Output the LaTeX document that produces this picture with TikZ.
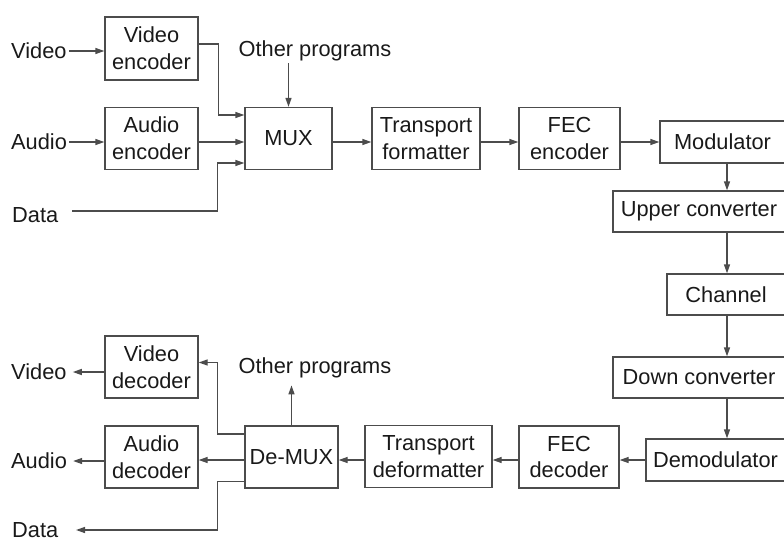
\documentclass[tikz,border=0pt]{standalone}
\usepackage{fontspec}
\setmainfont{Liberation Sans}
\usetikzlibrary{positioning,arrows.meta}
\tikzset{
  blk/.style={draw=black!70, line width=1.3pt, align=center, inner sep=0pt,
              minimum height=62pt, font=\fontsize{21.8}{26.7}\selectfont, text=black!90},
  lbl/.style={inner sep=2pt, font=\fontsize{21.8}{26.7}\selectfont, text=black!90},
  arr/.style={draw=black!70, line width=1.3pt, -{Triangle[length=9pt,width=6pt]}},
  ln/.style={draw=black!70, line width=1.3pt}
}

\begin{document}
\begin{tikzpicture}[x=1pt,y=-1pt]
  \useasboundingbox (0,0) rectangle (784,541);

  \node[blk, minimum width=93pt, minimum height=63pt] (venc) at (151.5,48.5) {Video\\encoder};
  \node[blk, minimum width=93pt] (aenc) at (151.5,138.5) {Audio\\encoder};
  \node[blk, minimum width=87pt] (mux) at (288.5,138.5) {MUX};
  \node[blk, minimum width=108pt] (tfmt) at (426,138.5) {Transport\\formatter};
  \node[blk, minimum width=101pt] (fenc) at (569.5,138.5) {FEC\\encoder};
  \node[blk, minimum width=125pt, minimum height=42pt] (mod) at (722.5,142) {Modulator};
  \node[blk, minimum width=172pt, minimum height=41pt] (upc) at (699,211.5) {Upper converter};
  \node[blk, minimum width=118pt, minimum height=41pt] (chan) at (726,294.5) {Channel};
  \node[blk, minimum width=172pt, minimum height=41pt] (dnc) at (699,377.5) {Down converter};
  \node[blk, minimum width=139pt, minimum height=42pt] (demod) at (715.5,460) {Demodulator};
  \node[blk, minimum width=100pt] (fdec) at (569,457) {FEC\\decoder};
  \node[blk, minimum width=127pt] (tdef) at (428.5,456.5) {Transport\\deformatter};
  \node[blk, minimum width=93pt] (demux) at (291.5,457) {De-MUX};
  \node[blk, minimum width=93pt] (adec) at (151.5,457) {Audio\\decoder};
  \node[blk, minimum width=93pt] (vdec) at (151.5,367) {Video\\decoder};

  \node[lbl, anchor=west] (vin) at (9,51) {Video};
  \node[lbl, anchor=west] (ain) at (9,142) {Audio};
  \node[lbl, anchor=west] (din) at (10,215) {Data};
  \node[lbl] (oin) at (315,51) {Other programs};
  \node[lbl, anchor=west] (vout) at (9,372) {Video};
  \node[lbl, anchor=west] (aout) at (9,461) {Audio};
  \node[lbl, anchor=west] (dout) at (10,530) {Data};
  \node[lbl] (oout) at (315,368) {Other programs};

  \coordinate (d0) at (72,211);
  \coordinate (d1) at (76,530);
  \coordinate (sp) at (727,0);

  \draw[arr] (vin.east) -- (vin.east -| venc.west);
  \draw[arr] (ain.east) -- (ain.east -| aenc.west);
  \draw[arr] ([yshift=4.5pt]venc.east) -- ++(20,0) |- ([yshift=23.5pt]mux.west);
  \draw[arr] (aenc.east |- ain) -- (mux.west |- ain);
  \draw[arr] (d0) -| ([xshift=-27pt,yshift=-24.5pt]mux.west) -- ([yshift=-24.5pt]mux.west);
  \draw[arr] (oin.south -| mux.north) -- (mux.north);
  \draw[arr] (mux.east |- ain) -- (tfmt.west |- ain);
  \draw[arr] (tfmt.east |- ain) -- (fenc.west |- ain);
  \draw[arr] (fenc.east |- mod) -- (mod.west);

  \draw[arr] (mod.south -| sp) -- (upc.north -| sp);
  \draw[arr] (upc.south -| sp) -- (chan.north -| sp);
  \draw[arr] (chan.south -| sp) -- (dnc.north -| sp);
  \draw[arr] (dnc.south -| sp) -- (demod.north -| sp);

  \draw[arr] (demod.west) -- (fdec.east |- demod.west);
  \draw[arr] (fdec.west |- demod.west) -- (tdef.east |- demod.west);
  \draw[arr] (tdef.west |- demod.west) -- (demux.east |- demod.west);
  \draw[arr] (demux.west |- demod.west) -- (adec.east |- demod.west);
  \draw[arr, shorten >=4pt] (adec.west |- aout) -- (aout.east);
  \draw[arr, shorten >=4pt] (vdec.west |- vout) -- (vout.east);
  \draw[arr] ([yshift=23pt]demux.west) -- ++(-27,0) |- ([yshift=4.5pt]vdec.east);
  \draw[arr] ([yshift=-24.5pt]demux.west) -- ++(-27,0) |- (d1);
  \draw[arr, shorten >=5pt] (demux.north) -- (oout.south -| demux.north);
\end{tikzpicture}
\end{document}
